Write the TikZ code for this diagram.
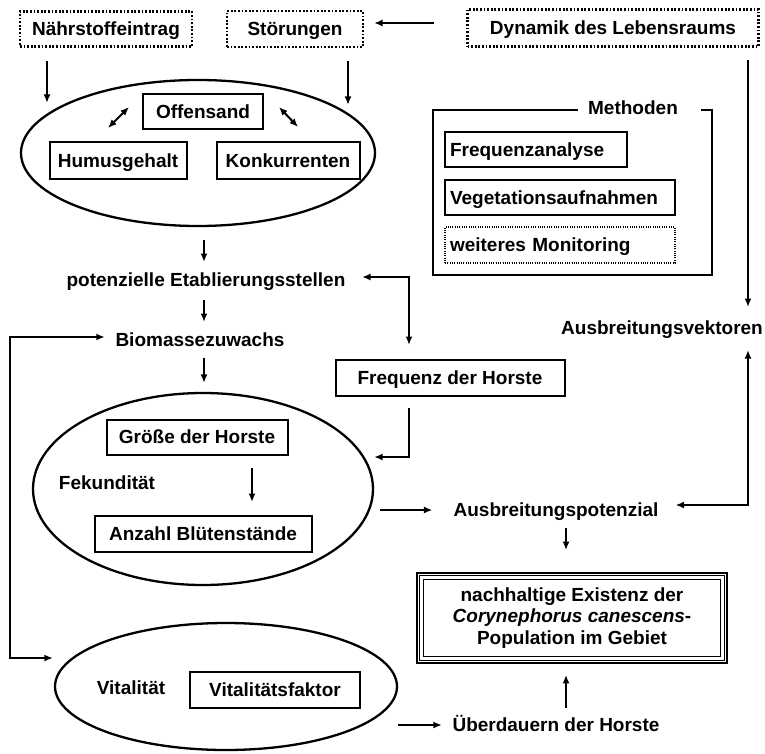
\documentclass[tikz,border=0pt]{standalone}
\usepackage{fontspec}
\setmainfont{Liberation Sans}
\usetikzlibrary{shapes.geometric,arrows.meta,calc}
\begin{document}
\begin{tikzpicture}[x=1pt,y=1pt,
  txt/.style={font=\fontsize{19}{21.5}\selectfont\bfseries, text height=17.6pt, text depth=4pt, inner sep=2pt},
  box/.style={txt, draw, line width=2pt, inner sep=0pt},
  lbox/.style={box, inner xsep=5pt, align=left},
  dotbox/.style={txt, draw, line width=2.2pt, dash pattern=on 1.8pt off 1.8pt, inner sep=0pt},
  ell/.style={draw, ellipse, line width=2.3pt, inner sep=0pt},
  arr/.style={line width=2pt, -{Latex[length=8.5pt,width=7pt]}},
  darr/.style={line width=2pt, {Latex[length=8.5pt,width=7pt]}-{Latex[length=8.5pt,width=7pt]}},
]
\useasboundingbox (0,0) rectangle (765,-754);

% ellipses
\node[ell, minimum width=354pt, minimum height=146pt] (ell1) at (198,-153) {};
\node[ell, minimum width=340pt, minimum height=192pt] (ell2) at (203,-489) {};
\node[ell, minimum width=342pt, minimum height=127pt] (ell3) at (226,-686.5) {};

% top row
\node[dotbox, minimum width=172pt, minimum height=35pt] (naehr) at (106,-29) {Nährstoffeintrag};
\node[dotbox, minimum width=136pt, minimum height=36pt] (stoer) at (295,-29) {Störungen};
\node[dotbox, minimum width=291pt, minimum height=37pt] (dyn) at (613,-28) {Dynamik des Lebensraums};

% inside ellipse 1
\node[box, minimum width=120pt, minimum height=35pt] (offen) at (203,-112) {Offensand};
\node[box, minimum width=137pt, minimum height=37pt] (humus) at (118,-161) {Humusgehalt};
\node[box, minimum width=143pt, minimum height=37pt] (konk) at (288,-161) {Konkurrenten};

% middle texts
\node[txt] (pot) at (206,-280) {potenzielle Etablierungsstellen};
\node[txt] (bio) at (200,-340) {Biomassezuwachs};
\node[box, minimum width=229pt, minimum height=36pt] (freq) at (450,-378) {Frequenz der Horste};

% ellipse 2
\node[box, minimum width=181pt, minimum height=35pt] (groesse) at (197,-437) {Größe der Horste};
\node[txt] (fek) at (107,-483) {Fekundität};
\node[box, minimum width=217pt, minimum height=36pt] (anzahl) at (203,-534) {Anzahl Blütenstände};

\node[txt] (ausbpot) at (556,-510) {Ausbreitungspotenzial};
\node[txt] (ausbvek) at (662,-328) {Ausbreitungsvektoren};

% ellipse 3
\node[txt] (vital) at (131,-688) {Vitalität};
\node[box, minimum width=170pt, minimum height=36pt] (vfak) at (275,-690) {Vitalitätsfaktor};
\node[txt] (ueber) at (556,-725) {Überdauern der Horste};

% Methoden
\node[minimum width=279pt, minimum height=165pt, inner sep=0pt, outer sep=0pt] (meth) at (572.5,-192.5) {};
\node[txt] (methtitle) at (633,-108) {Methoden};
\draw[line width=2pt] ($(methtitle.west |- meth.north)+(-8,0)$) -- (meth.north west) -- (meth.south west) -- (meth.south east) -- (meth.north east) -- ($(methtitle.east |- meth.north)+(21,0)$);
\node[lbox, text width=172pt, minimum height=35pt] (fa) at (536,-149.5) {Frequenzanalyse};
\node[lbox, text width=220pt, minimum height=35pt] (veg) at (560,-197.5) {Vegetationsaufnahmen};
\node[txt, draw, line width=1.1pt, dash pattern=on 1pt off 1.3pt, inner sep=0pt, inner xsep=5pt, align=left, text width=220pt, minimum height=36pt] (mon) at (560,-245) {weiteres Monitoring};

% final box
\node[draw, line width=2.8pt, minimum width=310pt, minimum height=90pt, align=center, inner sep=0pt,
      font=\fontsize{19}{21.5}\selectfont\bfseries] (exist) at (572,-618)
      {nachhaltige Existenz der\\\textit{Corynephorus canescens}-\\Population im Gebiet};
\draw[line width=1.1pt] ($(exist.north west)+(3.5,-3.5)$) rectangle ($(exist.south east)+(-3.5,3.5)$);
\draw[line width=1.1pt] ($(exist.north west)+(8,-8)$) rectangle ($(exist.south east)+(-8,8)$);

% connectors
\draw[arr, shorten <=32pt, shorten >=10pt] ($(dyn.west)+(0,5)$) -- ($(dyn.west -| stoer.east)+(0,5)$);

\coordinate (n1) at ($(naehr.south)+(-59,0)$);
\draw[arr, shorten <=13pt, shorten >=12pt] (n1) -- (n1 |- ell1.166);
\coordinate (n2) at ($(stoer.south)+(53,0)$);
\draw[arr, shorten <=13pt, shorten >=8pt] (n2) -- (n2 |- ell1.15);

\draw[darr] ($(offen.west)+(-13,5)$) -- ($(humus.north)+(-10,13.5)$);
\draw[darr] ($(offen.east)+(15,5)$) -- ($(konk.north)+(10,14.5)$);

\coordinate (c1) at ($(ell1.south)+(6,0)$);
\draw[arr, shorten <=13pt, shorten >=5pt] (c1) -- (c1 |- pot.north);
\draw[arr, shorten <=7pt, shorten >=5pt] (pot.south -| c1) -- (c1 |- bio.north);
\draw[arr, shorten <=5pt, shorten >=9pt] (bio.south -| c1) -- (c1 |- ell2.north);

\coordinate (fbA) at (10,-337);
\coordinate (fbB) at (10,-658);
\draw[darr, shorten <=8.5pt, shorten >=1pt] (bio.west |- fbA) -- (fbA) -- (fbB) -- (fbB -| ell3.west);

\draw[darr, shorten <=14.5pt, shorten >=14pt] ($(pot.east)+(0,3)$) -| ($(freq.north)+(-41,0)$);
\draw[arr, shorten <=11pt] ($(freq.south)+(-41,0)$) |- ($(ell2.east)+(0,32)$);
\draw[arr, shorten <=6pt, shorten >=19pt] (ell2.east |- ausbpot.west) -- (ausbpot.west);

\coordinate (c3) at ($(dyn.south)+(135,0)$);
\draw[arr, shorten <=12.5pt, shorten >=8pt] (c3) -- (c3 |- ausbvek.north);
\draw[darr, shorten <=9pt, shorten >=15pt] (ausbvek.south -| c3) |- ($(ausbpot.east)+(0,5)$);

\coordinate (c4) at ($(ausbpot.south)+(10,0)$);
\draw[arr, shorten <=5pt, shorten >=21.5pt] (c4) -- (c4 |- exist.north);
\draw[arr, shorten <=4pt, shorten >=10.5pt] (ueber.north -| c4) -- (c4 |- exist.south);
\draw[arr, shorten >=8.5pt] (ell3.east |- ueber.west) -- (ueber.west);

\coordinate (c5) at ($(groesse.south)+(55,0)$);
\draw[arr, shorten <=12.5pt, shorten >=13pt] (c5) -- (c5 |- anzahl.north);
\end{tikzpicture}
\end{document}
